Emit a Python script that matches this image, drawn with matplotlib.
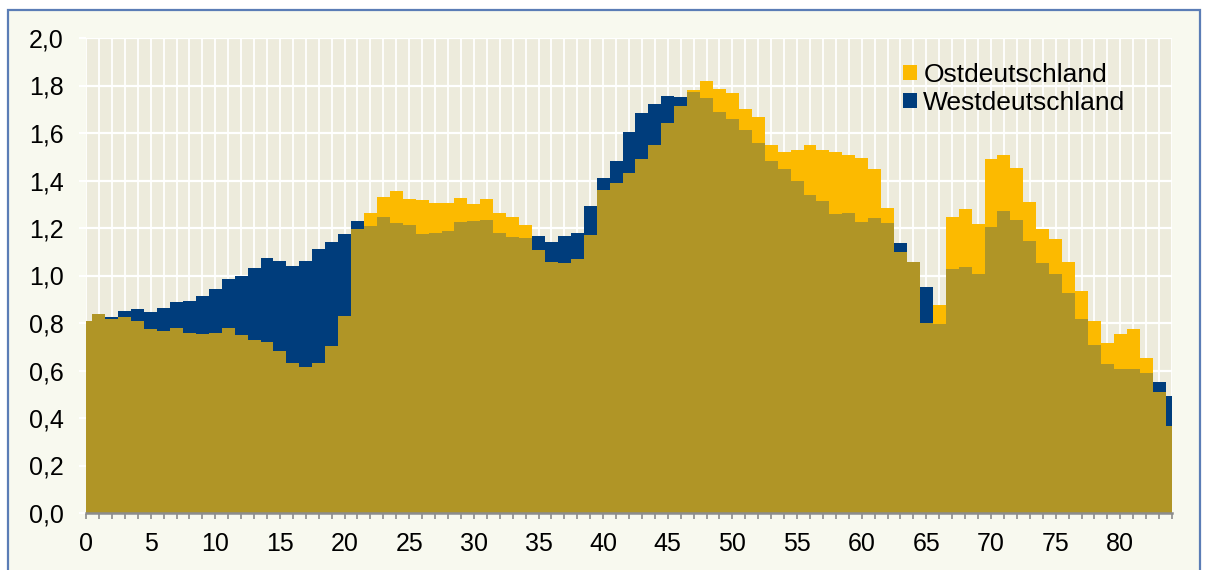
import numpy as np
import matplotlib
matplotlib.use( 'Agg' )
import matplotlib.pyplot as plt
from matplotlib.patches import Patch, Rectangle
from matplotlib.ticker import MultipleLocator, FixedLocator, FixedFormatter

# age groups 0..84, share of population in percent
ages = list( range( 85 ) )
ost = [0.81, 0.838, 0.815, 0.827, 0.807, 0.773, 0.766, 0.780, 0.759, 0.755,
       0.759, 0.779, 0.749, 0.730, 0.719, 0.682, 0.633, 0.613, 0.633, 0.703,
       0.828, 1.197, 1.263, 1.331, 1.356, 1.322, 1.318, 1.304, 1.304, 1.326,
       1.301, 1.322, 1.265, 1.245, 1.213, 1.106, 1.057, 1.054, 1.068, 1.172,
       1.360, 1.391, 1.433, 1.491, 1.548, 1.641, 1.715, 1.782, 1.819, 1.784,
       1.770, 1.700, 1.666, 1.548, 1.521, 1.528, 1.548, 1.528, 1.520, 1.506,
       1.495, 1.450, 1.283, 1.097, 1.058, 0.801, 0.876, 1.246, 1.282, 1.217,
       1.489, 1.506, 1.451, 1.309, 1.194, 1.154, 1.058, 0.935, 0.808, 0.717,
       0.754, 0.773, 0.651, 0.508, 0.366]
west = [0.81, 0.838, 0.827, 0.852, 0.858, 0.845, 0.863, 0.887, 0.894, 0.915,
        0.942, 0.987, 0.999, 1.030, 1.072, 1.062, 1.040, 1.061, 1.112, 1.141,
        1.175, 1.229, 1.208, 1.248, 1.220, 1.214, 1.175, 1.178, 1.189, 1.225,
        1.228, 1.235, 1.178, 1.164, 1.159, 1.166, 1.142, 1.166, 1.178, 1.293,
        1.409, 1.482, 1.606, 1.686, 1.724, 1.757, 1.750, 1.771, 1.749, 1.690,
        1.658, 1.613, 1.557, 1.484, 1.448, 1.399, 1.338, 1.314, 1.259, 1.262,
        1.227, 1.241, 1.221, 1.135, 1.058, 0.950, 0.794, 1.029, 1.034, 1.006,
        1.204, 1.270, 1.235, 1.144, 1.051, 1.006, 0.925, 0.816, 0.707, 0.626,
        0.608, 0.608, 0.591, 0.550, 0.494]
series_labels = ['Ostdeutschland', 'Westdeutschland']
x_ticks = list( range( 0, 85, 5 ) )
y_ticks = [0.0, 0.2, 0.4, 0.6, 0.8, 1.0, 1.2, 1.4, 1.6, 1.8, 2.0]

YELLOW = '#FCBA00'
NAVY = '#003D7C'
OLIVE = '#B09526'
PLOT_BG = '#EDEBDC'
FIG_BG = '#F8F9EF'
BORDER = '#5B7DB6'
GREY = '#8C8C8C'

plt.rcParams['font.family'] = ['Liberation Sans', 'DejaVu Sans']

fig = plt.figure( figsize=(12.06, 5.70), dpi=100, facecolor='white' )
fig.patches.append( Rectangle( (8 / 1206, -0.1), 1192 / 1206, 1.1 - 10 / 570,
                               transform=fig.transFigure, facecolor=FIG_BG,
                               edgecolor=BORDER, linewidth=1.6, zorder=-10 ) )

ax = fig.add_axes( [86 / 1206, 57 / 570, 1086 / 1206, 475 / 570] )
ax.set_facecolor( PLOT_BG )
ax.set_axisbelow( True )

# yellow and blue show where one region is higher, olive is the common part
ax.bar( ages, ost, width=1.0, color=YELLOW, linewidth=0 )
ax.bar( ages, west, width=1.0, color=NAVY, linewidth=0 )
ax.bar( ages, np.minimum( ost, west ), width=1.0, color=OLIVE, linewidth=0 )

ax.set_xlim( 0, 84 )
ax.set_ylim( 0, 2.0 )

ax.xaxis.set_major_locator( FixedLocator( x_ticks ) )
ax.xaxis.set_minor_locator( MultipleLocator( 1 ) )
ax.set_xticklabels( [str( t ) for t in x_ticks] )
ax.yaxis.set_major_locator( FixedLocator( y_ticks ) )
ax.yaxis.set_major_formatter( FixedFormatter( ['{:.1f}'.format( v ).replace( '.', ',' ) for v in y_ticks] ) )

ax.tick_params( axis='x', which='both', direction='out', length=4.5, width=1.2,
                color=GREY, labelsize=18, pad=9 )
ax.tick_params( axis='y', which='major', direction='out', length=5, width=1.5,
                color='white', labelsize=18, pad=11 )

ax.grid( True, axis='x', which='minor', color='white', linewidth=1.3 )
ax.grid( True, axis='x', which='major', color='white', linewidth=1.3 )
ax.grid( True, axis='y', which='major', color='white', linewidth=1.6 )

for side in ['left', 'right', 'top']:
    ax.spines[side].set_visible( False )
ax.spines['bottom'].set_color( GREY )
ax.spines['bottom'].set_linewidth( 1.8 )

handles = [Patch( facecolor=YELLOW, edgecolor='none' ), Patch( facecolor=NAVY, edgecolor='none' )]
ax.legend( handles, series_labels, loc='upper left', bbox_to_anchor=(0.752, 0.948),
           frameon=False, fontsize=19, handlelength=0.53, handleheight=0.53,
           handletextpad=0.25, labelspacing=0.15, borderpad=0, borderaxespad=0 )

plt.savefig( 'out.png', dpi=100, facecolor=fig.get_facecolor( ) )
